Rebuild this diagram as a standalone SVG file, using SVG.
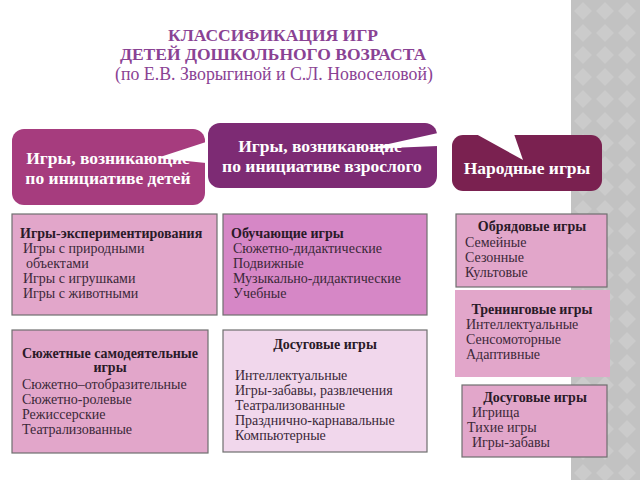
<svg xmlns="http://www.w3.org/2000/svg" width="640" height="480" viewBox="0 0 640 480" font-family="'Liberation Serif', 'DejaVu Serif', 'Times New Roman', serif">
<defs>
<pattern id="dia" width="22" height="22" patternUnits="userSpaceOnUse">
<rect width="22" height="22" fill="#c2c2c2"/>
<path d="M11 2 L20 11 L11 20 L2 11 Z" fill="#cbcbcb"/>
</pattern>
<style>
text{font-family:'Liberation Serif','DejaVu Serif','Times New Roman',serif;}
.title{fill:#8a4294;text-anchor:middle;}
.hd{font-weight:bold;fill:#ffffff;font-size:17.5px;text-anchor:middle;}
.bx{stroke:#6f6f6f;stroke-width:1.2;}
.b{font-weight:bold;font-size:14px;fill:#2a1a28;}
.r{font-size:14px;fill:#3a2838;}
.c{text-anchor:middle;}
</style>
</defs>
<rect width="640" height="480" fill="#ffffff"/>
<rect x="571" y="0" width="69" height="480" fill="url(#dia)"/>

<g id="title">
<text class="title" x="273" y="41" font-size="17.5" font-weight="bold">КЛАССИФИКАЦИЯ ИГР</text>
<text class="title" x="273" y="60" font-size="17.5" font-weight="bold">ДЕТЕЙ ДОШКОЛЬНОГО ВОЗРАСТА</text>
<text class="title" x="274" y="80" font-size="17.8">(по Е.В. Зворыгиной и С.Л. Новоселовой)</text>
</g>

<g id="hdr-children">
<rect x="12" y="129" width="193" height="76" rx="12" fill="#a63c7e"/>
<text class="hd" x="108" y="164">Игры, возникающие</text>
<text class="hd" x="108" y="184">по инициативе детей</text>
<polygon points="206,142 206,163 157,158" fill="#ffffff"/>
</g>

<g id="hdr-adults">
<rect x="208" y="123" width="229" height="65" rx="12" fill="#7d2b74"/>
<text class="hd" x="320" y="152">Игры, возникающие</text>
<text class="hd" x="322" y="172">по инициативе взрослого</text>
<polygon points="366,149 438,133 438,146" fill="#ffffff"/>
</g>

<g id="hdr-folk">
<rect x="452" y="135" width="150" height="56" rx="11" fill="#7a2150"/>
<text class="hd" x="527" y="174" font-size="19">Народные игры</text>
<polygon points="476,134 514,134 523,160" fill="#ffffff"/>
</g>

<g id="box-experiment">
<rect class="bx" x="12" y="214" width="205" height="101" fill="#e2a6ca"/>
<text class="b" x="20" y="238">Игры-экспериментирования</text>
<text class="r" x="23" y="253">Игры с природными</text>
<text class="r" x="26" y="268">объектами</text>
<text class="r" x="23" y="283">Игры с игрушками</text>
<text class="r" x="23" y="298">Игры с животными</text>
</g>

<g id="box-teaching">
<rect class="bx" x="223" y="214" width="204" height="101" fill="#d687c6"/>
<text class="b" x="231" y="238">Обучающие игры</text>
<text class="r" x="233" y="253">Сюжетно-дидактические</text>
<text class="r" x="233" y="268">Подвижные</text>
<text class="r" x="233" y="283">Музыкально-дидактические</text>
<text class="r" x="233" y="298">Учебные</text>
</g>

<g id="box-ritual">
<rect class="bx" x="456" y="214" width="151" height="73" fill="#e2a6ca"/>
<text class="b c" x="532" y="231">Обрядовые игры</text>
<text class="r" x="465" y="247">Семейные</text>
<text class="r" x="465" y="262">Сезонные</text>
<text class="r" x="465" y="277">Культовые</text>
</g>

<g id="box-training">
<rect x="455" y="290" width="155" height="87" fill="#e2a6ca"/>
<text class="b c" x="532" y="314">Тренинговые игры</text>
<text class="r" x="466" y="329">Интеллектуальные</text>
<text class="r" x="466" y="344">Сенсомоторные</text>
<text class="r" x="466" y="359">Адаптивные</text>
</g>

<g id="box-plot">
<rect class="bx" x="12" y="330" width="196" height="123" fill="#e2a6ca"/>
<text class="b c" x="110" y="358">Сюжетные самодеятельные</text>
<text class="b c" x="110" y="372">игры</text>
<text class="r" x="22" y="389">Сюжетно–отобразительные</text>
<text class="r" x="22" y="404">Сюжетно-ролевые</text>
<text class="r" x="22" y="419">Режиссерские</text>
<text class="r" x="22" y="434">Театрализованные</text>
</g>

<g id="box-leisure">
<rect class="bx" x="223" y="330" width="204" height="122" fill="#f1d7ec"/>
<text class="b c" x="325" y="349">Досуговые игры</text>
<text class="r" x="235" y="380">Интеллектуальные</text>
<text class="r" x="235" y="395">Игры-забавы, развлечения</text>
<text class="r" x="235" y="410">Театрализованные</text>
<text class="r" x="235" y="425">Празднично-карнавальные</text>
<text class="r" x="235" y="440">Компьютерные</text>
</g>

<g id="box-folk-leisure">
<rect class="bx" x="462" y="385" width="145" height="72" fill="#e2a6ca"/>
<text class="b c" x="535" y="402">Досуговые игры</text>
<text class="r" x="472" y="417">Игрища</text>
<text class="r" x="467" y="432">Тихие игры</text>
<text class="r" x="472" y="447">Игры-забавы</text>
</g>

<g id="connectors"></g>
</svg>
